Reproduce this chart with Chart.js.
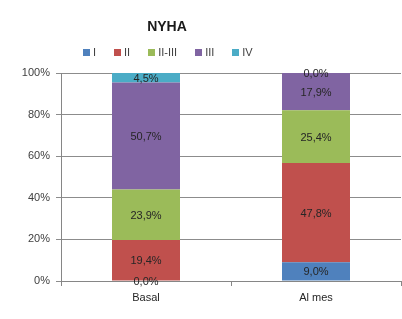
<!DOCTYPE html>
<html>
<head>
<meta charset="utf-8">
<script src="https://cdn.jsdelivr.net/npm/chart.js@4/dist/chart.umd.min.js"></script>
<style>
  html, body { margin: 0; padding: 0; background: #fff; }
  #wrap { position: relative; width: 402px; height: 319px; font-family: "Liberation Sans", Arial, sans-serif; }
  #title { position: absolute; left: 0; width: 334px; top: 18px; text-align: center; font-weight: bold; font-size: 14px; color: #1a1a1a; }
  #legend { position: absolute; left: 83px; top: 46px; display: flex; font-size: 11px; color: #404040; }
  #legend span.item { display: flex; align-items: center; margin-right: 18px; }
  #legend span.box { width: 7px; height: 7px; margin-right: 3px; display: inline-block; }
  canvas { position: absolute; left: 0; top: 0; }
</style>
</head>
<body>
<div id="wrap">
  <canvas id="nyhaChart" width="402" height="319"></canvas>
  <div id="title">NYHA</div>
  <div id="legend"></div>
</div>
<script>
// ---------- data ---------- //
const categories = ["Basal", "Al mes"];
const classNames = ["I", "II", "II-III", "III", "IV"];
const classColors = ["#4F81BD", "#C0504D", "#9BBB59", "#8064A2", "#4BACC6"];
const valuesI = [0.0, 9.0];
const valuesII = [19.4, 47.8];
const valuesIIIII = [23.9, 25.4];
const valuesIII = [50.7, 17.9];
const valuesIV = [4.5, 0.0];
const yTicks = [0, 20, 40, 60, 80, 100];

const rawSeries = [valuesI, valuesII, valuesIIIII, valuesIII, valuesIV];

// 100% stacked: normalise each category to its total
const totals = categories.map((c, i) =>
  rawSeries.reduce((sum, s) => sum + s[i], 0)
);

const datasets = rawSeries.map((s, k) => ({
  label: classNames[k],
  data: s.map((v, i) => (v / totals[i]) * 100),
  raw: s,
  backgroundColor: classColors[k],
  borderWidth: 0,
  barPercentage: 0.4,
  categoryPercentage: 1,
}));

// ---------- html legend ---------- //
const $legend = document.getElementById("legend");
classNames.forEach((name, k) => {
  const item = document.createElement("span");
  item.className = "item";
  item.innerHTML = `<span class="box" style="background:${classColors[k]}"></span>${name}`;
  $legend.appendChild(item);
});

// draws the "19,4%" style labels in the middle of each segment
const segmentLabels = {
  id: "segmentLabels",
  afterDatasetsDraw(chart) {
    const ctx = chart.ctx;
    ctx.save();
    ctx.font = "11px 'Liberation Sans', Arial, sans-serif";
    ctx.fillStyle = "#262626";
    ctx.textAlign = "center";
    ctx.textBaseline = "middle";
    chart.data.datasets.forEach((ds, k) => {
      const meta = chart.getDatasetMeta(k);
      meta.data.forEach((bar, i) => {
        const text = ds.raw[i].toFixed(1).replace(".", ",") + "%";
        ctx.fillText(text, bar.x, (bar.y + bar.base) / 2 + 1);
      });
    });
    ctx.restore();
  },
};

new Chart(document.getElementById("nyhaChart"), {
  type: "bar",
  data: { labels: categories, datasets },
  options: {
    responsive: false,
    animation: false,
    layout: { padding: { top: 73, right: 1, left: 0, bottom: 0 } },
    plugins: {
      legend: { display: false },
      title: { display: false },
      tooltip: { enabled: false },
    },
    scales: {
      x: {
        stacked: true,
        grid: {
          offset: true,
          drawOnChartArea: false,
          drawTicks: true,
          tickLength: 5,
          color: "#868686",
        },
        border: { color: "#868686", width: 1 },
        ticks: {
          color: "#262626",
          font: { size: 11, family: "'Liberation Sans', Arial, sans-serif" },
          padding: 5,
        },
        afterFit(scale) {
          scale.height = 38;
        },
      },
      y: {
        stacked: true,
        min: 0,
        max: 100,
        afterBuildTicks(scale) {
          scale.ticks = yTicks.map((v) => ({ value: v }));
        },
        grid: {
          color: "#8c8c8c",
          lineWidth: 1,
          tickLength: 5,
        },
        border: { color: "#868686", width: 1 },
        ticks: {
          color: "#404040",
          font: { size: 11, family: "'Liberation Sans', Arial, sans-serif" },
          padding: 6,
          callback: (v) => v + "%",
        },
        afterFit(scale) {
          scale.width = 61;
        },
      },
    },
  },
  plugins: [segmentLabels],
});
</script>
</body>
</html>
